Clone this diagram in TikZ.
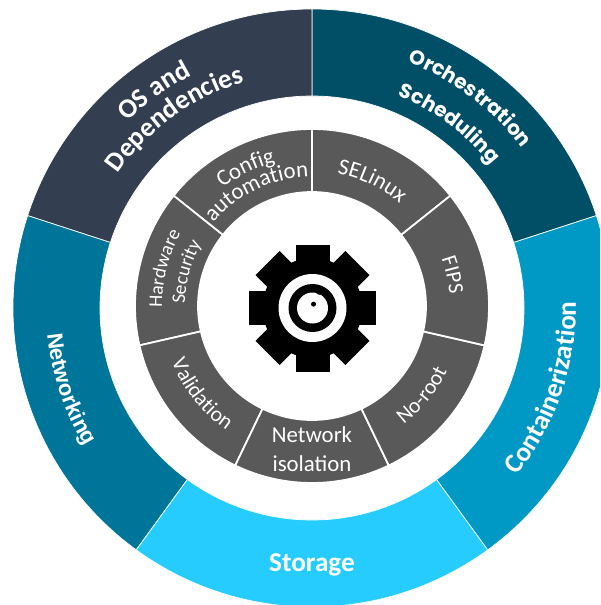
\documentclass[tikz,border=0pt]{standalone}
\usepackage{fontspec}
\setmainfont{Carlito}
\newfontfamily\netfam{Liberation Sans}
\newfontfamily\orchfam{Poppins}
\usetikzlibrary{decorations.text}
\definecolor{osc}{HTML}{333F50}
\definecolor{orch}{HTML}{004F66}
\definecolor{cont}{HTML}{0099C6}
\definecolor{stor}{HTML}{27CCFF}
\definecolor{netw}{HTML}{00759A}
\definecolor{inn}{HTML}{595959}
\newcommand\outf{\fontsize{15.5}{15.5}\bfseries\selectfont}
\newcommand\orchf{\orchfam\fontsize{11.5}{11.5}\bfseries\selectfont}
\newcommand\netf{\netfam\fontsize{12.5}{12.5}\bfseries\selectfont}
\newcommand\innf{\fontsize{13}{13}\selectfont}
\newcommand\insf{\fontsize{12.3}{12.3}\selectfont}
\newcommand\hwf{\fontsize{11}{11}\selectfont}
% sector: colour, start angle, end angle, outer R, inner R, border width, centre
\newcommand\sector[7]{\fill[#1,draw=white,line width=#6] ([shift={(#7)}]#2:#4) arc[start angle=#2,end angle=#3,radius=#4] -- ([shift={(#7)}]#3:#5) arc[start angle=#3,end angle=#2,radius=#5] -- cycle;}
% text on an arc: font, mid angle, radius, half span (+ = clockwise), text, centre
\newcommand\arctext[6]{\path[decorate,decoration={text along path,text align=center,text={|#1\color{white}|#5}}] ([shift={(#6)}]{#2+#4}:#3) arc[start angle={#2+#4},end angle={#2-#4},radius=#3];}
\begin{document}
\begin{tikzpicture}[x=0.02cm,y=-0.02cm,
  outlabel/.style={text=white,font=\outf,inner sep=0pt},
  inlabel/.style={text=white,font=\innf,inner sep=0pt}]
\useasboundingbox (0,0) rectangle (600,605);
\clip (0,0) rectangle (600,605);
\coordinate (c) at (312,308);
\coordinate (ci) at (312,306);
\coordinate (g) at (312.5,308);
\begin{scope}[x=0.02cm,y=0.02cm]
\sector{orch}{18}{90}{299}{212}{0.4pt}{c}
\sector{osc}{90}{162}{299}{212}{0.4pt}{c}
\sector{netw}{162}{234}{299}{212}{0.4pt}{c}
\sector{stor}{234}{306}{299}{212}{0.4pt}{c}
\sector{cont}{306}{378}{299}{212}{0.4pt}{c}
\sector{inn}{38.57}{90}{177}{114}{1pt}{ci}
\sector{inn}{90}{141.43}{177}{114}{1pt}{ci}
\sector{inn}{141.43}{192.86}{177}{114}{1pt}{ci}
\sector{inn}{192.86}{244.29}{177}{114}{1pt}{ci}
\sector{inn}{244.29}{295.71}{177}{114}{1pt}{ci}
\sector{inn}{295.71}{347.14}{177}{114}{1pt}{ci}
\sector{inn}{347.14}{398.57}{177}{114}{1pt}{ci}
% outer labels
\arctext{\outf}{126}{262}{35}{OS and}{c}
\arctext{\outf}{126}{236}{40}{Dependencies}{c}
\arctext{\orchf}{53}{264}{35}{Orchestration}{c}
\arctext{\orchf}{53.3}{229}{35}{Scheduling}{c}
\arctext{\netf}{198.5}{266}{-30}{Networking}{c}
\arctext{\outf}{341}{264}{-30}{Containerization}{c}
% inner labels
\arctext{\innf}{115.7}{148}{28}{Config}{ci}
\arctext{\innf}{115.7}{129}{35}{automation}{ci}
\arctext{\innf}{64.3}{135}{30}{SELinux}{ci}
\arctext{\insf}{12.5}{138}{25}{FIPS}{ci}
\arctext{\insf}{321}{150}{-25}{No-root}{ci}
\arctext{\insf}{218.6}{151}{-28}{Validation}{ci}
\arctext{\hwf}{165.7}{150}{30}{Hardware}{ci}
\arctext{\hwf}{164.8}{127}{32}{Security}{ci}
% gear
\foreach \a in {0,45,...,315}
  \fill[black,shift={(g)},rotate=\a] (-17,0) rectangle (17,63.5);
\fill[black] (g) circle[radius=50];
\fill[white] (g) circle[radius=34];
\fill[black] (g) circle[radius=24];
\fill[white] (g) circle[radius=15.5];
\fill[black] ([shift={(g)}]68:18) circle[radius=3.5];
\fill[black] ([shift={(g)}]75:4) circle[radius=2.5];
\end{scope}
\node[outlabel] (storage) at (312,565) {Storage};
\node[inlabel] (net1) at (312,435) {Network};
\node[inlabel] (net2) at (312,464) {isolation};
\end{tikzpicture}
\end{document}
